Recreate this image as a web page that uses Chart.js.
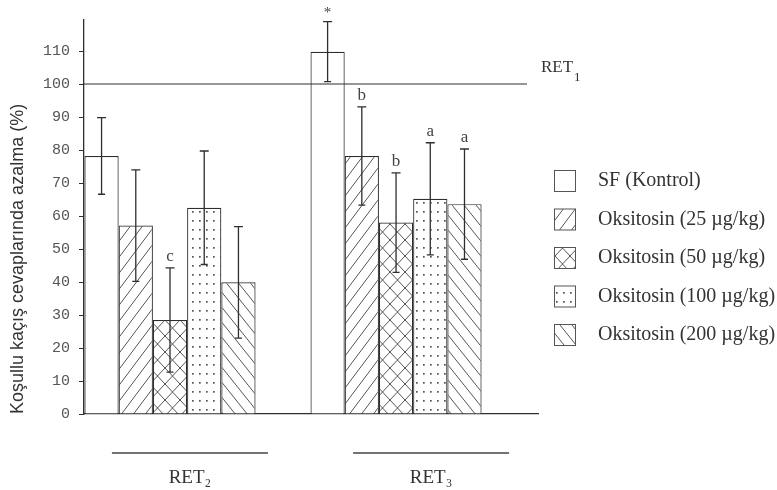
<!DOCTYPE html>
<html>
<head>
<meta charset="utf-8">
<script src="https://cdn.jsdelivr.net/npm/chart.js@4.4.1/dist/chart.umd.min.js"></script>
<style>
  html, body { margin: 0; padding: 0; background: #ffffff; }
  #wrap { width: 777px; height: 490px; position: relative; }
</style>
</head>
<body>
<div id="wrap"><canvas id="c" width="777" height="490"></canvas></div>
<script>
// ---------------- data ----------------
const categories = ['RET\u2082', 'RET\u2083'];
const seriesNames = ['SF (Kontrol)', 'Oksitosin (25 \u00b5g/kg)', 'Oksitosin (50 \u00b5g/kg)', 'Oksitosin (100 \u00b5g/kg)', 'Oksitosin (200 \u00b5g/kg)'];
const sfValues      = [78.2, 109.8];
const oks25Values   = [57.1, 78.2];
const oks50Values   = [28.5, 58.0];
const oks100Values  = [62.5, 65.2];
const oks200Values  = [39.9, 63.6];
const sfErrors      = [11.6, 9.1];
const oks25Errors   = [16.9, 14.9];
const oks50Errors   = [15.8, 15.1];
const oks100Errors  = [17.2, 17.0];
const oks200Errors  = [16.9, 16.7];
const sfMarks       = ['', '*'];
const oks25Marks    = ['', 'b'];
const oks50Marks    = ['c', 'b'];
const oks100Marks   = ['', 'a'];
const oks200Marks   = ['', 'a'];
const tickValues = [0, 10, 20, 30, 40, 50, 60, 70, 80, 90, 100, 110];
const refValue = 100;
const refLabel = ['RET', '1'];
const yTitle = 'Koşullu kaçış cevaplarında azalma (%)';

const seriesValues = [sfValues, oks25Values, oks50Values, oks100Values, oks200Values];
const seriesErrors = [sfErrors, oks25Errors, oks50Errors, oks100Errors, oks200Errors];
const seriesMarks  = [sfMarks, oks25Marks, oks50Marks, oks100Marks, oks200Marks];

// ---------------- layout / style ----------------
const groupPos = [0, 1];           // group centres on linear x scale
const labelPos = [0.088, 1.155];   // where group labels sit
const INK = '#2e2e2e';
const HATCH = '#555555';

function makePattern(kind) {
  const c = document.createElement('canvas');
  const cx = c.getContext('2d');
  let w = 12, h = 16;
  if (kind === 'dots') { w = 7; h = 9; }
  else if (kind === 'cross') { w = 15; h = 16; }
  else if (kind === 'back') { w = 12; h = 15; }
  c.width = w; c.height = h;
  cx.fillStyle = '#ffffff';
  cx.fillRect(0, 0, w, h);
  cx.strokeStyle = HATCH;
  cx.fillStyle = HATCH;
  cx.lineWidth = 1;
  const fwd = () => { // "/"
    cx.beginPath();
    [-w, 0, w].forEach(dx => { cx.moveTo(dx, h); cx.lineTo(dx + w, 0); });
    cx.stroke();
  };
  const back = () => { // "\"
    cx.beginPath();
    [-w, 0, w].forEach(dx => { cx.moveTo(dx, 0); cx.lineTo(dx + w, h); });
    cx.stroke();
  };
  if (kind === 'fwd') fwd();
  else if (kind === 'back') back();
  else if (kind === 'cross') { fwd(); back(); }
  else if (kind === 'dots') { cx.fillRect(3, 4, 1.7, 1.7); }
  return document.getElementById('c').getContext('2d').createPattern(c, 'repeat');
}
const patterns = [makePattern('blank'), makePattern('fwd'), makePattern('cross'), makePattern('dots'), makePattern('back')];

const overlayPlugin = {
  id: 'overlay',
  afterDatasetsDraw(chart) {
    const ctx = chart.ctx;
    const ys = chart.scales.y, xs = chart.scales.x;
    const area = chart.chartArea;
    ctx.save();
    // reference line (RET1)
    const yRef = ys.getPixelForValue(refValue);
    ctx.strokeStyle = INK; ctx.lineWidth = 1.2;
    ctx.beginPath(); ctx.moveTo(area.left, yRef); ctx.lineTo(area.right - 11, yRef); ctx.stroke();
    ctx.fillStyle = '#333';
    ctx.font = '17px "Liberation Serif", "DejaVu Serif", serif';
    ctx.textAlign = 'left'; ctx.textBaseline = 'alphabetic';
    ctx.fillText(refLabel[0], area.right + 3, yRef - 12);
    const w = ctx.measureText(refLabel[0]).width;
    ctx.font = '13px "Liberation Serif", "DejaVu Serif", serif';
    ctx.fillText(refLabel[1], area.right + 4 + w, yRef - 3);

    // error bars and significance marks
    seriesValues.forEach((vals, i) => {
      const meta = chart.getDatasetMeta(i);
      vals.forEach((v, j) => {
        const bar = meta.data[j];
        const x = bar.x;
        const yTop = ys.getPixelForValue(v + seriesErrors[i][j]);
        const yBot = ys.getPixelForValue(v - seriesErrors[i][j]);
        ctx.strokeStyle = INK; ctx.lineWidth = 1.3;
        ctx.beginPath();
        ctx.moveTo(x, yTop); ctx.lineTo(x, yBot);
        ctx.moveTo(x - 4.5, yTop); ctx.lineTo(x + 4.5, yTop);
        ctx.moveTo(x - 3.5, yBot); ctx.lineTo(x + 3.5, yBot);
        ctx.stroke();
        const mark = seriesMarks[i][j];
        if (mark) {
          ctx.fillStyle = '#444';
          ctx.textAlign = 'center';
          ctx.textBaseline = 'alphabetic';
          if (mark === '*') {
            ctx.font = '15px "Liberation Serif", serif';
            ctx.fillText(mark, x, yTop - 5);
          } else {
            ctx.font = '17px "Liberation Serif", serif';
            ctx.fillText(mark, x, yTop - 7);
          }
        }
      });
    });

    // group underlines
    ctx.strokeStyle = '#444'; ctx.lineWidth = 1.4;
    labelPos.forEach(p => {
      const px = xs.getPixelForValue(p);
      ctx.beginPath(); ctx.moveTo(px - 78, 453); ctx.lineTo(px + 78, 453); ctx.stroke();
    });
    ctx.restore();
  },
  afterDraw(chart) {
    // legend
    const ctx = chart.ctx;
    ctx.save();
    chart.data.datasets.forEach((ds, i) => {
      const cy = 181 + i * 38.5;
      ctx.fillStyle = ds.backgroundColor;
      ctx.fillRect(554, cy - 10.5, 21, 21);
      ctx.strokeStyle = '#555'; ctx.lineWidth = 1;
      ctx.strokeRect(554.5, cy - 10.5, 21, 21);
      ctx.fillStyle = '#333';
      ctx.font = '20px "Liberation Serif", "DejaVu Serif", serif';
      ctx.textAlign = 'left'; ctx.textBaseline = 'middle';
      ctx.fillText(ds.label, 598, cy);
    });
    ctx.restore();
  }
};

new Chart(document.getElementById('c'), {
  type: 'bar',
  data: {
    datasets: seriesNames.map((name, i) => ({
      label: name,
      data: groupPos.map((x, j) => ({ x: x, y: seriesValues[i][j] })),
      backgroundColor: patterns[i],
      borderColor: INK,
      borderWidth: 1.2,
      borderSkipped: 'start'
    }))
  },
  options: {
    responsive: false,
    animation: false,
    layout: { padding: { top: 20, right: 239, bottom: 0, left: 0 } },
    datasets: { bar: { categoryPercentage: 0.757, barPercentage: 1 } },
    plugins: { legend: { display: false }, tooltip: { enabled: false } },
    scales: {
      x: {
        type: 'linear', min: -0.3805, max: 1.628, offset: false, bounds: 'data',
        grid: { display: false },
        border: { display: true, color: INK, width: 1.3 },
        afterBuildTicks: a => { a.ticks = labelPos.map(v => ({ value: v })); },
        ticks: {
          callback: (v, i) => categories[i],
          padding: 45, autoSkip: false, maxRotation: 0,
          font: { family: '"Liberation Serif", "DejaVu Serif", serif', size: 19 },
          color: '#333'
        },
        afterFit: s => { s.height = 76; }
      },
      y: {
        min: 0, max: 119.4, bounds: 'data',
        afterBuildTicks: a => { a.ticks = tickValues.map(v => ({ value: v })); },
        grid: { drawOnChartArea: false, drawTicks: true, tickLength: 5, color: INK, lineWidth: 1 },
        border: { display: true, color: INK, width: 1.3 },
        ticks: {
          padding: 9,
          font: { family: '"Liberation Mono", monospace', size: 15 },
          color: '#555',
          callback: v => String(v)
        },
        title: {
          display: true, text: yTitle, align: 'start',
          font: { family: '"Liberation Sans", sans-serif', size: 18 },
          color: '#333', padding: { top: 7, bottom: 0 }
        },
        afterFit: s => { s.width = 84; }
      }
    }
  },
  plugins: [overlayPlugin]
});
</script>
</body>
</html>
